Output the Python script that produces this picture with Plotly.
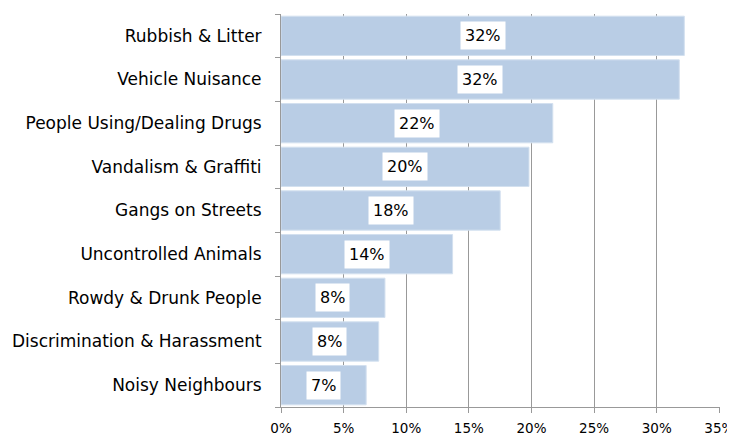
import plotly.graph_objects as go

categories = ["Rubbish & Litter", "Vehicle Nuisance", "People Using/Dealing Drugs",
              "Vandalism & Graffiti", "Gangs on Streets", "Uncontrolled Animals",
              "Rowdy & Drunk People", "Discrimination & Harassment", "Noisy Neighbours"]
values = [32.2, 31.8, 21.7, 19.8, 17.5, 13.7, 8.3, 7.8, 6.8]
labels = ["32%", "32%", "22%", "20%", "18%", "14%", "8%", "8%", "7%"]
xticks = [0, 5, 10, 15, 20, 25, 30, 35]
xticklabels = ["0%", "5%", "10%", "15%", "20%", "25%", "30%", "35%"]

FONT = "DejaVu Sans"

fig = go.Figure()
fig.add_trace(go.Bar(
    x=values, y=categories, orientation="h",
    marker=dict(color="#B9CDE5", line=dict(color="#D3E0EF", width=1)),
    hoverinfo="skip",
))

for c, v, t in zip(categories, values, labels):
    fig.add_annotation(x=v / 2, y=c, text=t, showarrow=False,
                       bgcolor="white", borderpad=4,
                       font=dict(family=FONT, size=16, color="black"))

# the page body adds an 8px offset, so the figure is sized to fit the window
fig.update_layout(
    width=727, height=431,
    margin=dict(l=273, r=15, t=6, b=32),
    paper_bgcolor="white", plot_bgcolor="white",
    bargap=0.1, showlegend=False,
    font=dict(family=FONT, size=14, color="black"),
    xaxis=dict(range=[0, 35.05], tickvals=xticks, ticktext=xticklabels,
               automargin=False, ticklabeloverflow="allow",
               showgrid=True, gridcolor="#999999", gridwidth=1,
               zeroline=False, showline=True, linecolor="#999999",
               ticks="outside", ticklen=5, tickcolor="#999999",
               ticklabelstandoff=4,
               tickfont=dict(family=FONT, size=13.5)),
    yaxis=dict(type="category", categoryorder="array", categoryarray=categories[::-1],
               automargin=False,
               tickson="boundaries", ticks="outside", ticklen=5, tickcolor="#999999",
               showline=True, linecolor="#999999", showgrid=False,
               ticklabelstandoff=15,
               tickfont=dict(family=FONT, size=17)),
)

fig.write_html("out.html")
